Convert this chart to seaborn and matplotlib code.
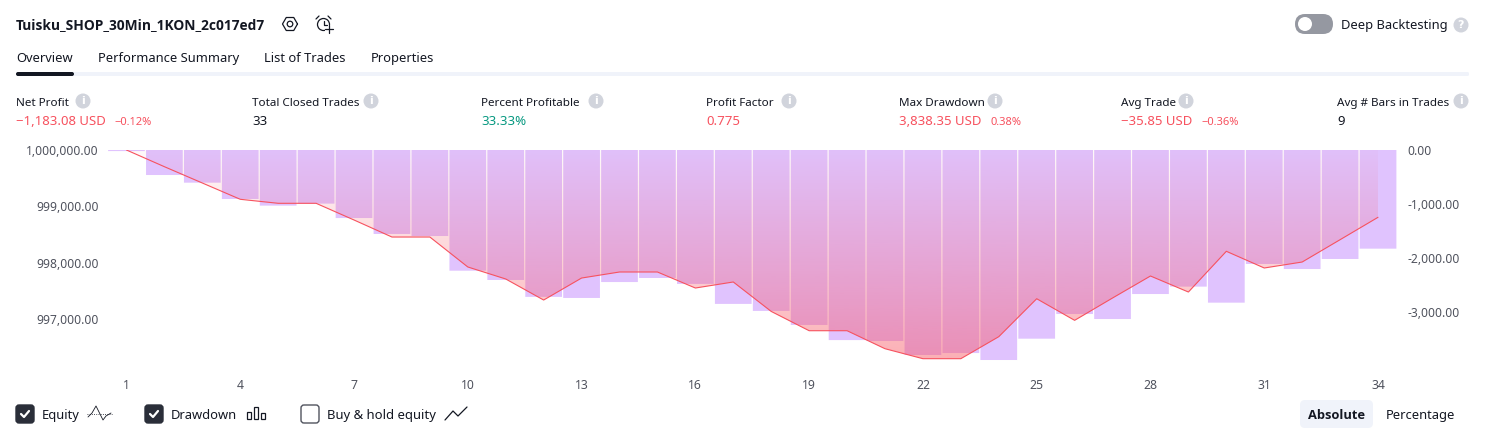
import numpy as np
import pandas as pd
import seaborn as sns
import matplotlib.pyplot as plt
from matplotlib.patches import Circle, FancyBboxPatch, Rectangle

# values
trades = list(range(1, 35))
drawdown = [-20, -463, -605, -907, -1030, -993, -1260, -1555, -1593, -2235, -2407, -2720,
            -2740, -2445, -2370, -2480, -2850, -2980, -3240, -3520, -3537, -3796, -3760, -3889,
            -3494, -3037, -3130, -2667, -2530, -2827, -2111, -2204, -2018, -1827]
equity = [1000000, 999704, 999415, 999126, 999055, 999055, 998759, 998457, 998457, 997926,
          997713, 997340, 997730, 997837, 997837, 997553, 997660, 997138, 996796, 996796,
          996477, 996300, 996300, 996690, 997363, 996980, 997376, 997766, 997482, 998204,
          997908, 998014, 998410, 998807]
x_ticks = [1, 4, 7, 10, 13, 16, 19, 22, 25, 28, 31, 34]
left_ticks = [1000000, 999000, 998000, 997000]
right_ticks = [0, -1000, -2000, -3000]

stats = [
    (16, 'Net Profit', 83, '−1,183.08 USD', '−0.12%', '#F7525F'),
    (252, 'Total Closed Trades', 371, '33', '', '#131722'),
    (481, 'Percent Profitable', 596, '33.33%', '', '#089981'),
    (706, 'Profit Factor', 789, '0.775', '', '#F7525F'),
    (899, 'Max Drawdown', 995, '3,838.35 USD', '0.38%', '#F7525F'),
    (1121, 'Avg Trade', 1186, '−35.85 USD', '−0.36%', '#F7525F'),
    (1337, 'Avg # Bars in Trades', 1461, '9', '', '#131722'),
]
tabs = [(16, 'Overview'), (98, 'Performance Summary'), (264, 'List of Trades'), (371, 'Properties')]

W, H = 1486, 438
RED = '#F7525F'
DARK = '#131722'
FONT = 'Noto Sans'

sns.set_theme(style='white')
plt.rcParams['font.family'] = [FONT, 'DejaVu Sans']

fig = plt.figure(figsize=(W / 100, H / 100), dpi=100, facecolor='white')

# plot area in pixels: x 107.5..1397, y 150..372
ax = fig.add_axes([107.5 / W, 1 - 372 / H, (1397 - 107.5) / W, 222 / H])
ax2 = ax.twinx()
ax.set_zorder(ax2.get_zorder() + 1)
ax.patch.set_visible(False)

df = pd.DataFrame({'trade': trades, 'drawdown': drawdown, 'equity': equity})

# the white theme puts a white edge on patches, so turn it off here
sns.barplot(data=df, x='trade', y='drawdown', native_scale=True, width=0.968,
            color='#E0C3FE', saturation=1, edgecolor='none', linewidth=0, ax=ax2)
# snapping made some of the 1px gaps vanish
for p in ax2.patches:
    p.set_snap(False)
ax2.set_ylim(-4111, 0)

# red area between the equity line and the top, fading upward
area = ax.fill_between(trades, equity, 1000000, color='none')
grad = np.zeros((256, 1, 4))
grad[..., :3] = [0xF7 / 255, 0x52 / 255, 0x5F / 255]
grad[..., 3] = np.linspace(0.03, 0.46, 256)[:, None]
im = ax.imshow(grad, extent=[1, 34, min(equity), 1000000], origin='upper', aspect='auto', zorder=2)
im.set_clip_path(area.get_paths()[0], transform=ax.transData)

sns.lineplot(data=df, x='trade', y='equity', color=RED, linewidth=0.8, ax=ax, zorder=3)

ax.set_xlim(0.5, 34.5)
ax.set_ylim(996064, 1000000)
ax.set_xlabel('')
ax.set_ylabel('')
ax2.set_xlabel('')
ax2.set_ylabel('')

ax.set_xticks(x_ticks)
ax.set_xticklabels([str(t) for t in x_ticks], fontsize=8.8, color='#50535E')
ax.set_yticks(left_ticks)
ax.set_yticklabels([f'{v:,.2f}' for v in left_ticks], fontsize=8.7, color='#50535E')
ax2.set_yticks(right_ticks)
ax2.set_yticklabels([f'{v:,.2f}' for v in right_ticks], fontsize=8.7, color='#50535E')
ax.tick_params(axis='x', length=0, pad=5)
ax.tick_params(axis='y', length=0, pad=6.5)
ax2.tick_params(axis='y', length=0, pad=7.5)
sns.despine(ax=ax, left=True, bottom=True, right=True, top=True)
sns.despine(ax=ax2, left=True, bottom=True, right=True, top=True)

# page furniture, in pixel coords
ui = fig.add_axes([0, 0, 1, 1], zorder=5)
ui.set_xlim(0, W)
ui.set_ylim(H, 0)
ui.axis('off')


def label(x, y, s, size=9.3, color=DARK, weight='normal', ha='left', family=None):
    return ui.text(x, y, s, fontsize=size, color=color, fontweight=weight, ha=ha, va='baseline',
                   family=family or [FONT, 'DejaVu Sans'])


def box(x, y, w, h, r, **kw):
    ui.add_patch(FancyBboxPatch((x + r, y + r), w - 2 * r, h - 2 * r,
                                boxstyle=f'round,pad={r},rounding_size={r}', **kw))


def info(x, y, s='i'):
    ui.add_patch(Circle((x, y), 7.5, color='#D1D4DC', lw=0))
    ui.text(x, y, s, fontsize=8, color='white', fontweight='bold', ha='center', va='center',
            family='DejaVu Sans')


def checkbox(x, y, checked):
    if checked:
        box(x, y - 9, 18, 18, 3, fc='#2A2E39', ec='#2A2E39', lw=1)
        ui.plot([x + 5, x + 8, x + 13], [y, y + 3, y - 3], color='white', lw=1.6)
    else:
        box(x, y - 9, 18, 18, 3, fc='white', ec='#50535E', lw=1)


label(16, 29, 'Tuisku_SHOP_30Min_1KON_2c017ed7', size=9.9, weight='bold', family='Open Sans')

# settings hexagon and alert clock icons
ang = np.linspace(0, 2 * np.pi, 7)
ui.plot(290 + 7.5 * np.cos(ang), 24 + 7.5 * np.sin(ang), color=DARK, lw=0.9)
ui.add_patch(Circle((290, 24), 2.8, fc='none', ec=DARK, lw=0.9))
ui.add_patch(Circle((323.5, 24.5), 6, fc='none', ec=DARK, lw=0.9))
ui.plot([323.5, 323.5, 326.5], [21, 25, 25], color=DARK, lw=0.9)
ui.plot([316, 319], [19, 16], color=DARK, lw=0.9)
ui.plot([328, 331], [16, 19], color=DARK, lw=0.9)
ui.add_patch(Rectangle((325, 25), 8, 8, fc='white', ec='none'))
ui.plot([325, 333], [29, 29], color=DARK, lw=0.9)
ui.plot([329, 329], [25, 33], color=DARK, lw=0.9)

# toggle
box(1295, 14, 38, 20, 10, fc='#9598A1', ec='none')
ui.add_patch(Circle((1305, 24), 7, color='white', lw=0))
label(1341, 29, 'Deep Backtesting')
info(1461, 25, '?')

# tabs
for tx, name in tabs:
    label(tx, 62, name)
box(16, 72, 1453, 4, 1.5, fc='#F0F3FA', ec='none')
box(16, 72, 58, 4, 2, fc=DARK, ec='none')

# stats row
for sx, head, ix, val, pct, col in stats:
    label(sx, 106, head, size=8.4)
    info(ix, 101)
    t = label(sx, 125, val, size=9.5, color=col)
    if pct:
        bb = t.get_window_extent(fig.canvas.get_renderer())
        label(bb.x1 + 9, 125, pct, size=8, color=col)

# legend row
checkbox(16, 414, True)
label(42, 419, 'Equity')
ui.plot([88, 92, 96, 99, 103, 106, 111], [417, 413, 406, 412, 420, 416, 413], color=DARK, lw=0.6)
ui.plot([87, 112], [414, 414], color=DARK, lw=0.6, ls=':')
checkbox(145, 414, True)
label(171, 419, 'Drawdown')
for bx, by, bh in [(246.5, 412, 7), (253.5, 407, 12), (260.5, 413, 6)]:
    ui.add_patch(Rectangle((bx, by), 4, bh, fc='none', ec=DARK, lw=0.9))
checkbox(301, 414, False)
label(327, 419, 'Buy & hold equity', size=9.45)
ui.plot([445, 453, 458, 467], [420, 411, 416, 407], color=DARK, lw=0.9)

box(1300, 400, 73, 28, 5, fc='#F0F3FA', ec='none')
label(1336.5, 419, 'Absolute', weight='bold', ha='center', family='Open Sans')
label(1386, 419, 'Percentage')

fig.savefig('out.png', dpi=100)
